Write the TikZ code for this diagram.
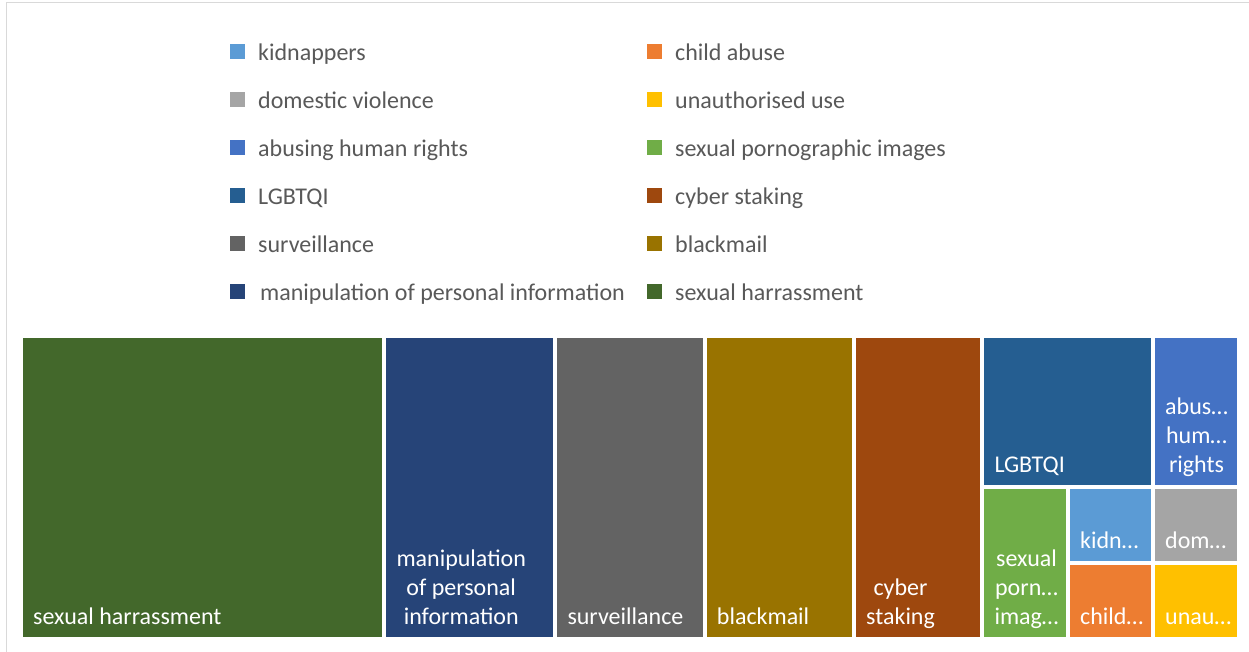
\documentclass[tikz,border=0pt]{standalone}
\usepackage{fontspec}
\setmainfont{Carlito}
\definecolor{cKid}{HTML}{5B9BD5}
\definecolor{cChild}{HTML}{ED7D31}
\definecolor{cDom}{HTML}{A5A5A5}
\definecolor{cUna}{HTML}{FFC000}
\definecolor{cAbu}{HTML}{4472C4}
\definecolor{cPorn}{HTML}{70AD47}
\definecolor{cLgb}{HTML}{255E91}
\definecolor{cCyb}{HTML}{9E480E}
\definecolor{cSur}{HTML}{636363}
\definecolor{cBla}{HTML}{997300}
\definecolor{cMan}{HTML}{264478}
\definecolor{cSex}{HTML}{43682B}
\definecolor{cLegTxt}{HTML}{595959}
\definecolor{cFrame}{HTML}{D9D9D9}
\newcommand{\tmbox}[7]{%
  \node[tile, fill=#2, minimum width=#5pt-#3pt, minimum height=#6pt-#4pt] (#1) at (#3,#4) {};
  \node[tilelbl] (#1-l) at ([xshift=10pt,yshift=12.5pt]#1.south west) {#7};
}
\newcommand{\lgitem}[5]{%
  \node[lgmark, fill=#3] (#1-m) at (#2,#4) {};
  \node[lgtxt] (#1-t) at (#2+28,#4+9) {#5};
}
\begin{document}
\begin{tikzpicture}[x=1pt,y=-1pt,
  tile/.style={anchor=north west, inner sep=0pt, outer sep=0pt, draw=none},
  tilelbl/.style={anchor=south west, inner sep=0pt, text=white, align=center,
    font=\fontsize{24}{29}\selectfont, text depth=0pt},
  lgmark/.style={anchor=west, inner sep=0pt, minimum size=15pt, draw=none},
  lgtxt/.style={anchor=base west, inner sep=0pt, text=cLegTxt, font=\fontsize{24}{29}\selectfont}]
\useasboundingbox (0,0) rectangle (1249,652);
\fill[white] (0,0) rectangle (1249,652);
\draw[cFrame, line width=1pt] (6,652) -- (6,3) -- (1249,3);
% legend
\lgitem{kid}{230}{cKid}{51.5}{kidnappers}
\lgitem{dom}{230}{cDom}{99.5}{domestic violence}
\lgitem{abu}{230}{cAbu}{147.5}{abusing human rights}
\lgitem{lgb}{230}{cLgb}{195.5}{LGBTQI}
\lgitem{sur}{230}{cSur}{243.5}{surveillance}
\lgitem{man}{230}{cMan}{291.5}{\hspace{2pt}manipulation of personal information}
\lgitem{chi}{647}{cChild}{51.5}{child abuse}
\lgitem{una}{647}{cUna}{99.5}{unauthorised use}
\lgitem{por}{647}{cPorn}{147.5}{sexual pornographic images}
\lgitem{cyb}{647}{cCyb}{195.5}{cyber staking}
\lgitem{bla}{647}{cBla}{243.5}{blackmail}
\lgitem{sex}{647}{cSex}{291.5}{sexual harrassment}
% treemap
\tmbox{bsex}{cSex}{23}{338}{382.3}{636.7}{sexual harrassment}
\tmbox{bman}{cMan}{386.3}{338}{553.3}{636.7}{manipulation\\of personal\\information}
\tmbox{bsur}{cSur}{557.3}{338}{702.7}{636.7}{surveillance}
\tmbox{bbla}{cBla}{706.7}{338}{852}{636.7}{blackmail}
\tmbox{bcyb}{cCyb}{856}{338}{980.3}{636.7}{cyber\\staking}
\tmbox{blgb}{cLgb}{984.3}{338}{1150.7}{485}{LGBTQI}
\tmbox{babu}{cAbu}{1155}{338}{1236.7}{485}{abus…\\hum…\\rights}
\tmbox{bpor}{cPorn}{984.3}{489.3}{1066}{636.7}{sexual\\porn…\\imag…}
\tmbox{bkid}{cKid}{1070}{489.3}{1150.7}{561}{kidn…}
\tmbox{bchi}{cChild}{1070}{565.3}{1150.7}{636.7}{child…}
\tmbox{bdom}{cDom}{1155}{489.3}{1236.7}{561}{dom…}
\tmbox{buna}{cUna}{1155}{565.3}{1236.7}{636.7}{unau…}
\end{tikzpicture}
\end{document}
